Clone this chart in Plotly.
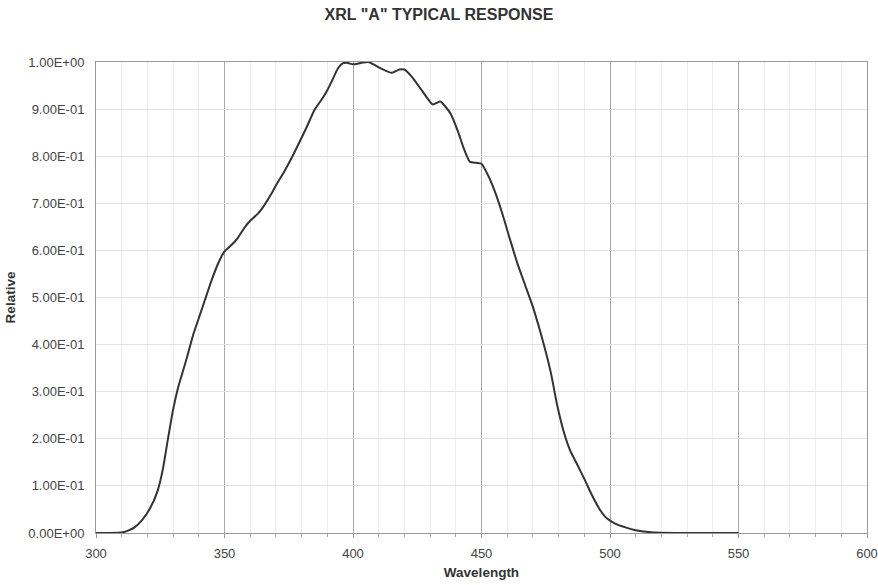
import plotly.graph_objects as go

wavelength = [300, 305, 310, 312, 315, 318, 321, 324, 326, 328, 330, 332, 335, 338, 341, 345, 348,
              350, 353, 355, 358, 360, 363, 365, 368, 370, 373, 376, 379, 382, 385, 388, 390,
              392, 394, 396, 398, 400, 403, 406, 408, 411, 415, 418, 420, 423, 427, 431, 434,
              436, 438, 441, 443, 445.5, 448, 450, 452.5, 455, 458, 461, 464, 467, 470, 473,
              475, 477, 479.5, 482, 484.5, 487, 490, 493, 496, 499, 502, 506, 510, 515, 520,
              530, 550]
relative = [0, 0, 0.001, 0.004, 0.012, 0.028, 0.052, 0.09, 0.135, 0.2, 0.262, 0.31, 0.365, 0.424,
            0.472, 0.537, 0.578, 0.598, 0.613, 0.625, 0.65, 0.663, 0.678, 0.692, 0.718, 0.738,
            0.765, 0.795, 0.828, 0.862, 0.898, 0.922, 0.94, 0.962, 0.985, 0.997, 0.998, 0.995,
            0.998, 1.0, 0.995, 0.986, 0.977, 0.984, 0.984, 0.968, 0.938, 0.91, 0.916, 0.905,
            0.89, 0.85, 0.818, 0.788, 0.786, 0.784, 0.76, 0.728, 0.68, 0.625, 0.572, 0.526,
            0.48, 0.425, 0.385, 0.34, 0.27, 0.215, 0.175, 0.148, 0.115, 0.08, 0.05, 0.03, 0.02,
            0.012, 0.006, 0.002, 0.0005, 0, 0]

x_ticks = [300, 350, 400, 450, 500, 550, 600]
y_tickvals = [0, 0.1, 0.2, 0.3, 0.4, 0.5, 0.6, 0.7, 0.8, 0.9, 1.0]
y_ticktext = ["0.00E+00", "1.00E-01", "2.00E-01", "3.00E-01", "4.00E-01", "5.00E-01",
              "6.00E-01", "7.00E-01", "8.00E-01", "9.00E-01", "1.00E+00"]

font_family = "Liberation Sans, Arial, sans-serif"

fig = go.Figure()
fig.add_trace(go.Scatter(
    x=wavelength, y=relative, mode="lines",
    line=dict(color="#333333", width=2, shape="spline", smoothing=0.5),
    showlegend=False, hoverinfo="x+y",
))

fig.update_layout(
    width=878, height=585,
    margin=dict(l=96, r=11, t=62, b=52),
    paper_bgcolor="white", plot_bgcolor="white",
    font=dict(family=font_family, color="#444444", size=13),
    title=dict(text="<b>XRL \"A\" TYPICAL RESPONSE</b>", x=0.5, xanchor="center",
               y=0.975, yanchor="middle", font=dict(size=16, color="#333333")),
)

fig.update_xaxes(
    range=[300, 600], tickvals=x_ticks, ticks="outside", ticklen=4, tickcolor="#999999",
    showgrid=True, gridcolor="#a8a8a8", gridwidth=1,
    showline=True, linecolor="#999999", linewidth=1, mirror=True,
    zeroline=False, automargin=False,
    minor=dict(dtick=10, showgrid=True, gridcolor="#ededed", ticks="outside", ticklen=3,
               tickcolor="#aaaaaa"),
    tickfont=dict(size=13, color="#444444"),
    ticklabelstandoff=4,
    title=dict(text="<b>Wavelength</b>", font=dict(size=13.5, color="#333333"), standoff=7),
)
fig.update_yaxes(
    range=[0, 1.0], tickvals=y_tickvals, ticktext=y_ticktext, ticks="",
    showgrid=True, gridcolor="#e2e2e2", gridwidth=1,
    showline=True, linecolor="#999999", linewidth=1, mirror=True,
    zeroline=False, automargin=False,
    tickfont=dict(size=13, color="#444444"),
    ticklabelstandoff=8,
    title=dict(text="<b>Relative</b>", font=dict(size=13.5, color="#333333"), standoff=9),
)

fig.write_html("out.html")
